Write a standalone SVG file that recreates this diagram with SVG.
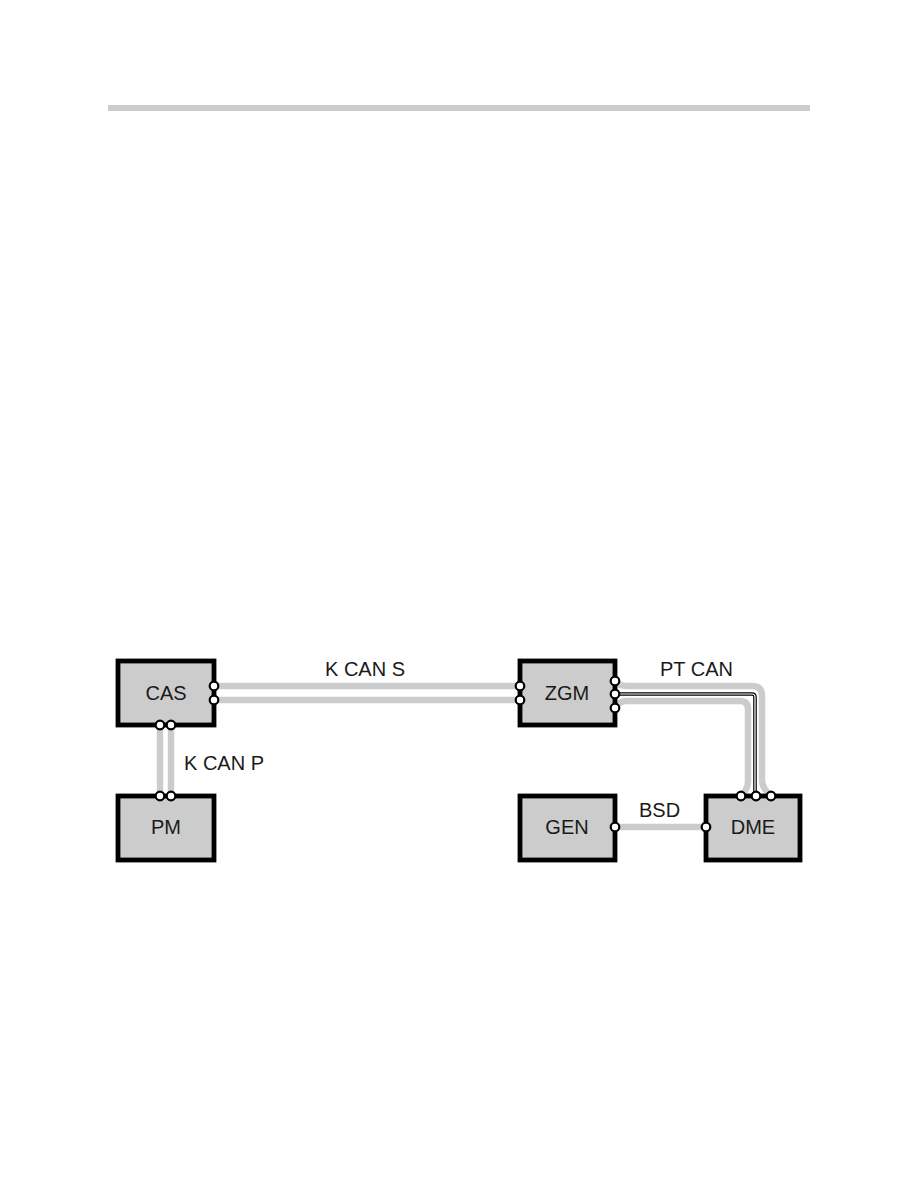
<svg xmlns="http://www.w3.org/2000/svg" width="918" height="1188" viewBox="0 0 918 1188">
<style>
.box{fill:#cccccc;stroke:#000;stroke-width:4.8}
.bus{fill:none;stroke:#cccccc;stroke-width:6.5;stroke-linecap:butt;stroke-linejoin:round}
.dblo{fill:none;stroke:#000;stroke-width:3.6}
.dbli{fill:none;stroke:#fff;stroke-width:1.2}
.pin{fill:#fff;stroke:#000;stroke-width:2.2}
text{font-family:"Liberation Sans",Arial,sans-serif;font-size:20px;fill:#1a1a1a}
.c{text-anchor:middle}
</style>
<rect x="108" y="105" width="702" height="6" fill="#cccccc"/>
<g id="connectors">
<path class="bus" d="M214,686 H520"/>
<path class="bus" d="M214,700 H520"/>
<path class="bus" d="M160,725 V796"/>
<path class="bus" d="M171,725 V796"/>
<path class="bus" d="M615,827 H706"/>
<path class="bus" d="M615,681 Q619,686 627,686 H752 Q762,686 762,696 V780 Q762,788 771,796"/>
<path class="bus" d="M615,708 Q619,701 627,701 H740 Q748,701 748,709 V782 Q748,789 741,796"/>
<path class="dblo" d="M615,694 H752 Q755,694 755,697 V796"/>
<path class="dbli" d="M618,694 H752 Q755,694 755,697 V793"/>
<text x="325" y="676">K CAN S</text>
<text x="184" y="770">K CAN P</text>
<text x="660" y="676">PT CAN</text>
<text x="639" y="817">BSD</text>
</g>
<g id="CAS">
<rect class="box" x="118" y="661" width="96" height="64"/>
<text class="c" x="166" y="700">CAS</text>
<circle class="pin" cx="214" cy="686" r="4.3"/>
<circle class="pin" cx="214" cy="700" r="4.3"/>
<circle class="pin" cx="160" cy="725" r="4.3"/>
<circle class="pin" cx="171" cy="725" r="4.3"/>
</g>
<g id="PM">
<rect class="box" x="118" y="796" width="96" height="64"/>
<text class="c" x="166" y="834">PM</text>
<circle class="pin" cx="160" cy="796" r="4.3"/>
<circle class="pin" cx="171" cy="796" r="4.3"/>
</g>
<g id="ZGM">
<rect class="box" x="520" y="661" width="95" height="64"/>
<text class="c" x="567" y="700">ZGM</text>
<circle class="pin" cx="520" cy="686" r="4.3"/>
<circle class="pin" cx="520" cy="700" r="4.3"/>
<circle class="pin" cx="615" cy="681" r="4.3"/>
<circle class="pin" cx="615" cy="694" r="4.3"/>
<circle class="pin" cx="615" cy="708" r="4.3"/>
</g>
<g id="GEN">
<rect class="box" x="520" y="796" width="95" height="64"/>
<text class="c" x="567" y="834">GEN</text>
<circle class="pin" cx="615" cy="827" r="4.3"/>
</g>
<g id="DME">
<rect class="box" x="706" y="796" width="94" height="64"/>
<text class="c" x="753" y="834">DME</text>
<circle class="pin" cx="706" cy="827" r="4.3"/>
<circle class="pin" cx="741" cy="796" r="4.3"/>
<circle class="pin" cx="756" cy="796" r="4.3"/>
<circle class="pin" cx="771" cy="796" r="4.3"/>
</g>
</svg>
